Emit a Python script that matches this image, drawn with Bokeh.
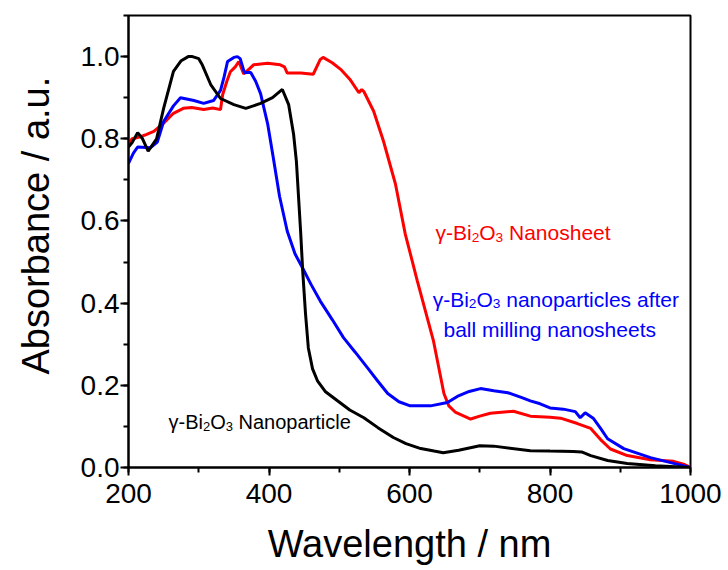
from bokeh.plotting import figure
from bokeh.layouts import row
from bokeh.models import Label, Range1d, SingleIntervalTicker, PrintfTickFormatter
from bokeh.core.properties import value
from bokeh.embed import file_html
from bokeh.resources import INLINE
import math

# ---------------- data ----------------
wl_nanoparticle = [200, 205, 213, 220, 228, 240, 250, 264, 275, 285, 291, 300, 305, 317, 331,
                   350, 367, 388, 405, 419, 428, 435, 439, 445, 448, 452, 456, 462, 469, 480,
                   497, 515, 535, 555, 577, 595, 616, 635, 648, 670, 700, 720, 772, 800, 833,
                   845, 858, 882, 910, 950, 1000]
abs_nanoparticle = [0.78, 0.79, 0.815, 0.80, 0.77, 0.80, 0.874, 0.964, 0.99, 1.0, 1.0, 0.995, 0.98,
                    0.932, 0.898, 0.883, 0.874, 0.886, 0.90, 0.92, 0.883, 0.811, 0.745, 0.575,
                    0.478, 0.374, 0.291, 0.24, 0.211, 0.185, 0.163, 0.14, 0.121, 0.097, 0.073,
                    0.058, 0.046, 0.040, 0.036, 0.042, 0.053, 0.052, 0.041, 0.040, 0.039, 0.038,
                    0.029, 0.017, 0.010, 0.004, 0.0]

wl_nanosheet = [200, 205, 217, 225, 236, 250, 264, 278, 290, 307, 320, 331, 334, 340, 345, 352,
                357, 364, 372, 378, 398, 416, 422, 426, 445, 463, 473, 477, 490, 502, 515, 528,
                532, 535, 549, 563, 580, 594, 611, 634, 649, 656, 665, 687, 700, 715, 748, 772,
                800, 815, 839, 858, 872, 886, 910, 943, 976, 990, 1000]
abs_nanosheet = [0.785, 0.80, 0.805, 0.81, 0.818, 0.838, 0.862, 0.874, 0.876, 0.871, 0.875, 0.871,
                 0.907, 0.94, 0.963, 0.975, 0.988, 0.958, 0.97, 0.98, 0.984, 0.98, 0.975, 0.96,
                 0.96, 0.957, 0.993, 0.998, 0.985, 0.969, 0.945, 0.912, 0.92, 0.915, 0.867, 0.794,
                 0.69, 0.568, 0.455, 0.309, 0.18, 0.15, 0.135, 0.118, 0.125, 0.132, 0.137, 0.125,
                 0.122, 0.12, 0.107, 0.095, 0.068, 0.045, 0.029, 0.019, 0.015, 0.008, 0.0]

wl_milled = [200, 207, 213, 231, 241, 250, 264, 274, 293, 307, 321, 331, 336, 341, 350, 355, 359,
             365, 374, 381, 388, 398, 406, 415, 426, 437, 448, 460, 473, 490, 506, 523, 540, 555,
             569, 585, 601, 630, 654, 668, 685, 701, 720, 740, 760, 772, 786, 800, 819, 836, 843,
             850, 862, 872, 882, 905, 943, 976, 1000]
abs_milled = [0.74, 0.765, 0.78, 0.778, 0.792, 0.842, 0.88, 0.90, 0.893, 0.886, 0.893, 0.918, 0.95,
              0.988, 0.998, 1.0, 0.995, 0.961, 0.961, 0.94, 0.91, 0.837, 0.755, 0.66, 0.575, 0.52,
              0.485, 0.445, 0.405, 0.36, 0.316, 0.28, 0.243, 0.21, 0.18, 0.16, 0.15, 0.15, 0.158,
              0.173, 0.185, 0.192, 0.187, 0.182, 0.17, 0.162, 0.155, 0.145, 0.142, 0.136, 0.121,
              0.133, 0.119, 0.095, 0.07, 0.046, 0.024, 0.01, 0.0]

x_ticks_interval = 200
y_ticks_interval = 0.2
x_title = "Wavelength / nm"
y_title = "Absorbance / a.u."

FONT = "Liberation Sans"
STRIP_W = 60
H = 570

# ---- narrow strip holding the rotated y-axis title (pixel-mapped ranges) ----
strip = figure(width=STRIP_W, height=H, output_backend="svg", toolbar_location=None,
               x_range=Range1d(0, STRIP_W), y_range=Range1d(0, H),
               x_axis_location=None, y_axis_location=None,
               min_border_left=0, min_border_right=0, min_border_top=0, min_border_bottom=0)
strip.grid.visible = False
strip.outline_line_color = None
strip.background_fill_color = "white"
strip.border_fill_color = "white"
strip.text(x=[35], y=[305], text=[y_title], angle=math.pi / 2, text_align="center",
           text_baseline="alphabetic", text_font=value(FONT), text_font_size="38px",
           text_color="black")

# ---- main plot ----
p = figure(width=728 - STRIP_W, height=H, output_backend="svg", toolbar_location=None,
           x_range=Range1d(200, 1000), y_range=Range1d(0, 1.1),
           min_border_left=128 - STRIP_W, min_border_right=38, min_border_top=15,
           min_border_bottom=103)

p.background_fill_color = "white"
p.border_fill_color = "white"
p.outline_line_color = "black"
p.outline_line_width = 2
p.xgrid.visible = False
p.ygrid.visible = False

p.line(wl_nanosheet, abs_nanosheet, line_color="#ff0000", line_width=3)
p.line(wl_milled, abs_milled, line_color="#0000ff", line_width=3)
p.line(wl_nanoparticle, abs_nanoparticle, line_color="black", line_width=3)

for ax, tk in ((p.xaxis, SingleIntervalTicker(interval=x_ticks_interval, num_minor_ticks=2)),
               (p.yaxis, SingleIntervalTicker(interval=y_ticks_interval, num_minor_ticks=2))):
    ax.ticker = tk
    ax.axis_line_width = 2
    ax.axis_line_color = "black"
    ax.major_tick_line_width = 2
    ax.minor_tick_line_width = 2
    ax.major_tick_in = 0
    ax.major_tick_out = 8
    ax.minor_tick_in = 0
    ax.minor_tick_out = 5
    ax.major_label_text_font = FONT
    ax.major_label_text_font_size = "28px"
    ax.major_label_text_color = "black"
    ax.major_label_text_font_style = "normal"
    ax.axis_label_text_font = FONT
    ax.axis_label_text_font_size = "38px"
    ax.axis_label_text_color = "black"
    ax.axis_label_text_font_style = "normal"

p.yaxis.formatter = PrintfTickFormatter(format="%.1f")
p.yaxis.major_label_standoff = 1
p.xaxis.major_label_standoff = 8
p.xaxis.axis_label = x_title
p.xaxis.axis_label_standoff = 17

WIDTHS = {"γ": 0.5, "-": 0.333, "B": 0.667, "i": 0.222, "2": 0.556, "3": 0.556, "O": 0.778,
          " ": 0.278, "N": 0.722, "a": 0.556, "n": 0.556, "o": 0.556, "s": 0.5, "h": 0.556,
          "e": 0.556, "t": 0.278, "p": 0.556, "r": 0.333, "c": 0.5, "l": 0.222, "f": 0.278,
          "b": 0.556, "m": 0.833, "g": 0.556}


def text_width(s, size):
    return sum(WIDTHS.get(ch, 0.55) for ch in s) * size


def rich_label(x, y, parts, color, size):
    off = 0.0
    for txt, sub in parts:
        fs = size * 0.65 if sub else size
        lead = len(txt) - len(txt.lstrip(" "))
        off += lead * WIDTHS[" "] * fs
        body = txt.lstrip(" ")
        p.add_layout(Label(x=x, y=y, x_offset=off, y_offset=(-0.2 * size if sub else 0),
                           text=body, text_font=FONT, text_font_size=f"{fs:.1f}px",
                           text_color=color, text_baseline="alphabetic", text_align="left"))
        off += text_width(body, fs)


def formula(rest):
    return [("γ-Bi", False), ("2", True), ("O", False), ("3", True), (rest, False)]


rich_label(637, 0.571, formula(" Nanosheet"), "#ff0000", 21)
rich_label(633, 0.409, formula(" nanoparticles after"), "#0000ff", 21)
rich_label(648.4, 0.336, [("ball milling nanosheets", False)], "#0000ff", 21)
rich_label(257, 0.110, formula(" Nanoparticle"), "black", 20)

layout = row(strip, p, spacing=0)
open("out.html", "w").write(file_html(layout, INLINE))
